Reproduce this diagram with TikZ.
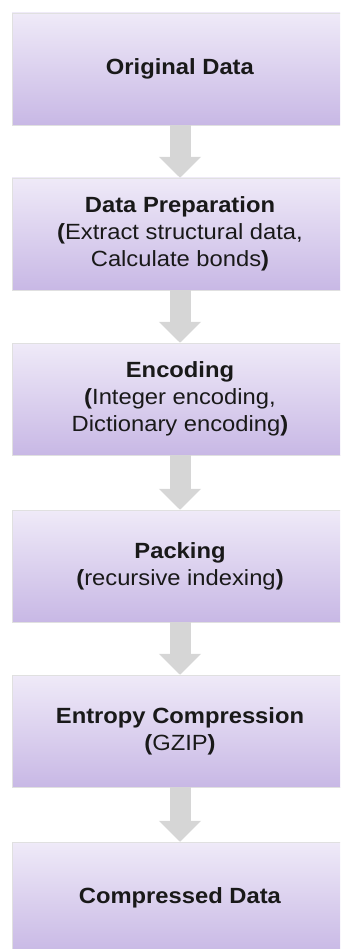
\documentclass[tikz,border=0pt]{standalone}
\usepackage{fontspec}
\setmainfont{Liberation Sans}[FakeStretch=1.08]
\usepackage{tikz}
\usetikzlibrary{arrows.meta, positioning, shapes, calc}

\definecolor{lavtop}{RGB}{239,234,248}
\definecolor{lavbot}{RGB}{200,184,229}
\definecolor{arrowgray}{RGB}{214,214,214}

\begin{document}
\begin{tikzpicture}[
    x=1pt, y=1pt,
    stage/.style={rectangle, draw=black!12, top color=lavtop, bottom color=lavbot, minimum width=336pt, minimum height=112pt, align=center, text=black!90, font=\fontsize{22}{27}\selectfont},
    flow/.style={line width=21pt, draw=arrowgray, -{Triangle[width=41pt, length=21pt]}}
]

% Frame
\useasboundingbox (0,0) rectangle (340,-949);
\clip (0,0) rectangle (340,-949);

% Pipeline stages
\node[stage] (orig) at (180,-69) {\textbf{Original Data}};
\node[stage] (prep) at (180,-234) {\textbf{Data Preparation}\\\textbf{(}Extract structural data,\\Calculate bonds\textbf{)}};
\node[stage] (enc) at (180,-399) {\textbf{Encoding}\\\textbf{(}Integer encoding,\\Dictionary encoding\textbf{)}};
\node[stage] (pack) at (180,-566) {\textbf{Packing}\\\textbf{(}recursive indexing\textbf{)}};
\node[stage] (entropy) at (180,-731) {\textbf{Entropy Compression}\\\textbf{(}GZIP\textbf{)}};
\node[stage] (comp) at (180,-898) {\textbf{Compressed Data}};

% Connections
\draw[flow] (orig) -- (prep);
\draw[flow] (prep) -- (enc);
\draw[flow] (enc) -- (pack);
\draw[flow] (pack) -- (entropy);
\draw[flow] (entropy) -- (comp);

\end{tikzpicture}
\end{document}
